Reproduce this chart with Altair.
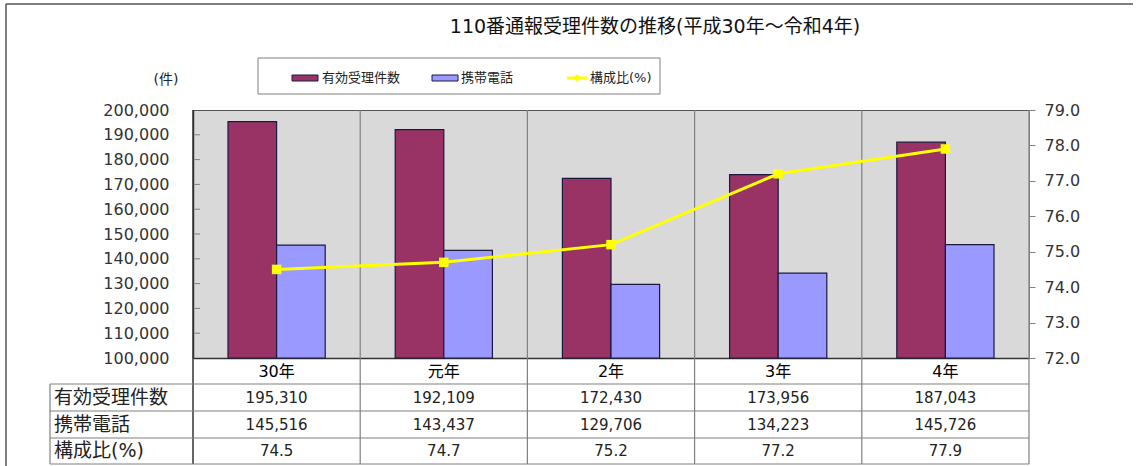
import altair as alt
import pandas as pd

# ---------------- data ----------------
YEARS = ["30年", "元年", "2年", "3年", "4年"]
VALID = [195310, 192109, 172430, 173956, 187043]
MOBILE = [145516, 143437, 129706, 134223, 145726]
RATIO = [74.5, 74.7, 75.2, 77.2, 77.9]
SERIES = ["有効受理件数", "携帯電話", "構成比(%)"]
LEFT_TICKS = [100000, 110000, 120000, 130000, 140000, 150000,
              160000, 170000, 180000, 190000, 200000]
RIGHT_TICKS = [72, 73, 74, 75, 76, 77, 78, 79]
TITLE = "110番通報受理件数の推移(平成30年～令和4年)"
UNIT = "(件)"

# ---------------- layout / style ----------------
W, H = 836, 248
FONT = "DejaVu Sans, Noto Sans CJK JP"
C_VALID, C_MOBILE, C_RATIO = "#993366", "#9999FF", "#FFFF00"
GRID = "#808080"

bars_df = pd.DataFrame({
    "year": YEARS * 2,
    "series": [SERIES[0]] * len(YEARS) + [SERIES[1]] * len(YEARS),
    "count": VALID + MOBILE,
})
line_df = pd.DataFrame({"year": YEARS, "ratio": RATIO})
table_df = pd.DataFrame({"year": YEARS, "valid": VALID, "mobile": MOBILE, "ratio": RATIO})
one = pd.DataFrame({"k": [0]})


def xenc(**kw):
    return alt.X(
        "year:N", sort=YEARS, title=None,
        scale=alt.Scale(paddingInner=0, paddingOuter=0),
        axis=alt.Axis(domain=True, domainColor="#333333", domainWidth=1.5, ticks=False,
                      labelAngle=0, labelFont=FONT, labelFontSize=16, labelColor="#000000",
                      labelPadding=5, grid=False),
        **kw)


left_scale = alt.Scale(domain=[LEFT_TICKS[0], LEFT_TICKS[-1]], nice=False, zero=False)
right_scale = alt.Scale(domain=[RIGHT_TICKS[0], RIGHT_TICKS[-1]], nice=False, zero=False)

# vertical category separators (run through the table)
seps = alt.Chart(table_df).mark_rule(color=GRID, strokeWidth=1.2).encode(
    x=xenc(bandPosition=1), y=alt.value(0), y2=alt.value(354))
left_ext = alt.Chart(one).mark_rule(color="#333333", strokeWidth=1.5).encode(
    x=alt.value(0), y=alt.value(0), y2=alt.value(354))

bars = alt.Chart(bars_df).mark_bar(stroke="#1a1a40", strokeWidth=1.2).encode(
    x=xenc(),
    xOffset=alt.XOffset("series:N", sort=SERIES[:2],
                        scale=alt.Scale(paddingOuter=0.72, paddingInner=0)),
    y=alt.Y("count:Q", scale=left_scale, title=None,
            axis=alt.Axis(orient="left", values=LEFT_TICKS, format=",d", ticks=False,
                          domain=True, domainColor="#333333", domainWidth=1.5,
                          labelFont=FONT, labelFontSize=16, labelColor="#333333",
                          labelPadding=24, grid=False)),
    y2=alt.datum(LEFT_TICKS[0]),
    color=alt.Color("series:N", scale=alt.Scale(domain=SERIES[:2], range=[C_VALID, C_MOBILE]),
                    legend=None),
)

lticks = alt.Chart(pd.DataFrame({"v": LEFT_TICKS[1:-1]})).mark_rule(color=GRID).encode(
    y=alt.Y("v:Q", scale=left_scale, axis=None), x=alt.value(0), x2=alt.value(7))

line = alt.Chart(line_df).mark_line(
    color=C_RATIO, strokeWidth=3,
    point=alt.OverlayMarkDef(shape="square", size=90, filled=True, color=C_RATIO),
).encode(
    x=xenc(),
    y=alt.Y("ratio:Q", scale=right_scale, title=None,
            axis=alt.Axis(orient="right", values=RIGHT_TICKS, format=".1f",
                          domain=True, domainColor=GRID, ticks=True, tickColor=GRID,
                          tickSize=6, labelFont=FONT, labelFontSize=16,
                          labelColor="#333333", labelPadding=9, grid=False)),
)

# ---------------- table ----------------
ROW_LINES = [274, 301, 328, 354]
ROW_MID = [287.5, 314.5, 341]
table_layers = []
for yv in ROW_LINES:
    table_layers.append(alt.Chart(one).mark_rule(color=GRID, strokeWidth=1.2).encode(
        x=alt.value(-143), x2=alt.value(W), y=alt.value(yv)))
table_layers.append(alt.Chart(one).mark_rule(color=GRID, strokeWidth=1.2).encode(
    x=alt.value(-143), y=alt.value(ROW_LINES[0]), y2=alt.value(ROW_LINES[-1])))
fields = [("valid", ",d"), ("mobile", ",d"), ("ratio", ".1f")]
for i, (f, fmt) in enumerate(fields):
    table_layers.append(alt.Chart(table_df).mark_text(
        font=FONT, fontSize=15, color="#222222", baseline="middle").encode(
        x=xenc(), y=alt.value(ROW_MID[i]), text=alt.Text(f"{f}:Q", format=fmt)))
    table_layers.append(alt.Chart(pd.DataFrame({"t": [SERIES[i]]})).mark_text(
        font=FONT, fontSize=19, color="#222222", align="left", baseline="middle").encode(
        x=alt.value(-139), y=alt.value(ROW_MID[i]), text="t:N"))

# ---------------- legend (manual) ----------------
leg = [
    alt.Chart(one).mark_rect(fill="white", stroke=GRID, strokeWidth=1).encode(
        x=alt.value(65), x2=alt.value(467), y=alt.value(-52), y2=alt.value(-16)),
    alt.Chart(one).mark_rect(fill=C_VALID, stroke="#1a1a40", strokeWidth=1).encode(
        x=alt.value(99), x2=alt.value(125), y=alt.value(-35), y2=alt.value(-29)),
    alt.Chart(pd.DataFrame({"t": [SERIES[0]]})).mark_text(
        font=FONT, fontSize=13, align="left", baseline="middle", color="#222222").encode(
        x=alt.value(129), y=alt.value(-32), text="t:N"),
    alt.Chart(one).mark_rect(fill=C_MOBILE, stroke="#1a1a40", strokeWidth=1).encode(
        x=alt.value(239), x2=alt.value(265), y=alt.value(-35), y2=alt.value(-29)),
    alt.Chart(pd.DataFrame({"t": [SERIES[1]]})).mark_text(
        font=FONT, fontSize=13, align="left", baseline="middle", color="#222222").encode(
        x=alt.value(268), y=alt.value(-32), text="t:N"),
    alt.Chart(one).mark_rule(color=C_RATIO, strokeWidth=3).encode(
        x=alt.value(374), x2=alt.value(394), y=alt.value(-32)),
    alt.Chart(one).mark_point(shape="diamond", filled=True, color=C_RATIO, size=60, opacity=1).encode(
        x=alt.value(384), y=alt.value(-32)),
    alt.Chart(pd.DataFrame({"t": [SERIES[2]]})).mark_text(
        font=FONT, fontSize=13, align="left", baseline="middle", color="#222222").encode(
        x=alt.value(397), y=alt.value(-32), text="t:N"),
    alt.Chart(pd.DataFrame({"t": [UNIT]})).mark_text(
        font=FONT, fontSize=14, align="center", baseline="middle", color="#222222").encode(
        x=alt.value(-27), y=alt.value(-30), text="t:N"),
    # title
    alt.Chart(pd.DataFrame({"t": [TITLE]})).mark_text(
        font=FONT, fontSize=19, align="center", baseline="middle", color="#111111").encode(
        x=alt.value(462), y=alt.value(-83), text="t:N"),
    # outer frame
    alt.Chart(one).mark_rule(color="#555555", strokeWidth=1.5).encode(
        x=alt.value(-187), x2=alt.value(940), y=alt.value(-106)),
    alt.Chart(one).mark_rule(color="#555555", strokeWidth=1.5).encode(
        x=alt.value(-187), y=alt.value(-106), y2=alt.value(360)),
]

chart = alt.layer(
    seps, bars, lticks, line, left_ext, *table_layers, *leg
).resolve_scale(y="independent").properties(
    width=W, height=H,
    autosize=alt.AutoSizeParams(type="none"),
    padding={"left": 193, "top": 110, "right": 112, "bottom": 108},
    background="white",
).configure_view(fill="#D9D9D9", stroke="#555555", strokeWidth=1)

chart.save("out.html", embed_options={"renderer": "svg", "actions": False})
